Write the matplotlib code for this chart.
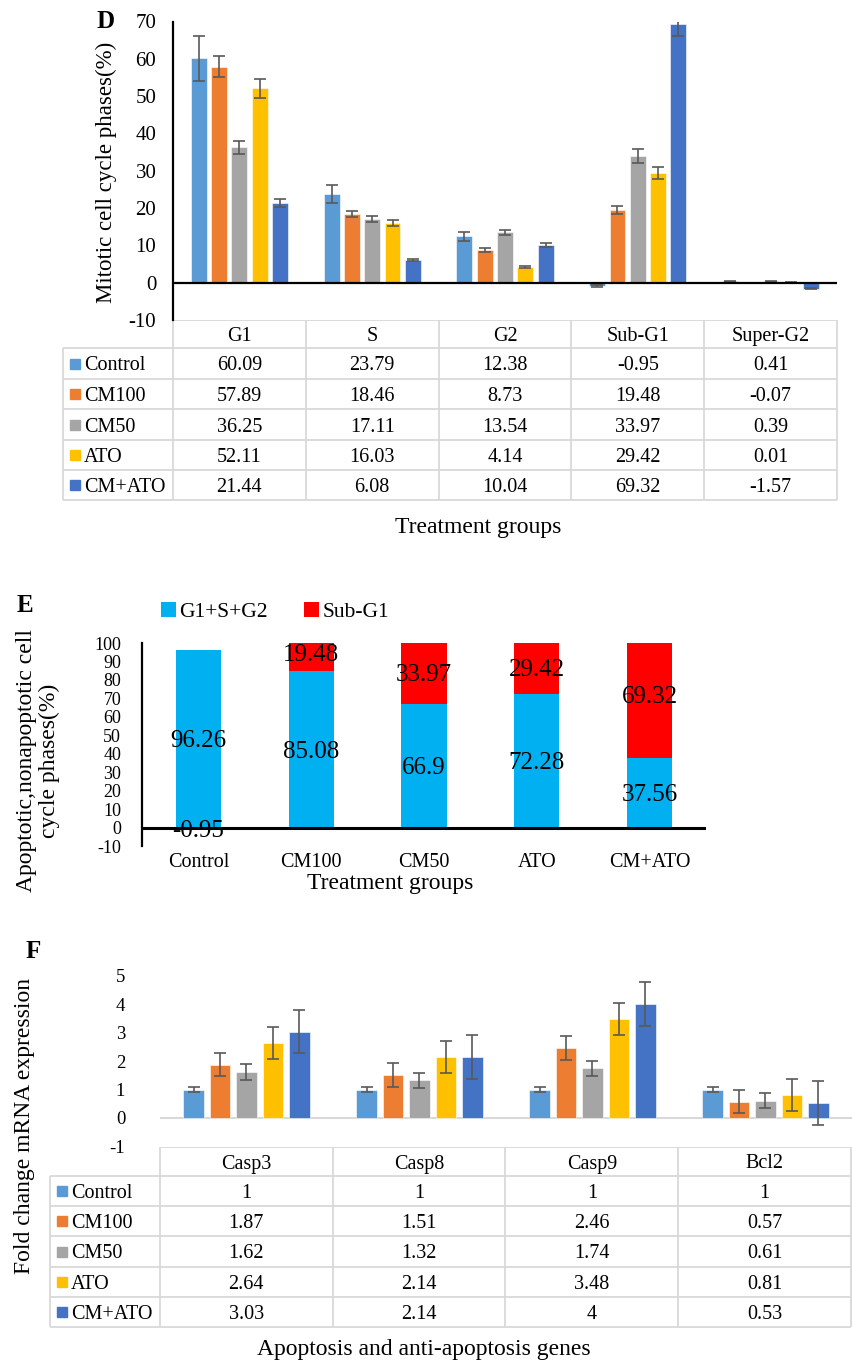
"""Cell cycle phases (D), apoptotic fraction (E) and gene expression (F)."""

import numpy
import matplotlib
matplotlib.use('Agg')
from matplotlib import pyplot
from matplotlib.patches import Rectangle

# Treatment groups shared by all panels.
groups = ['Control', 'CM100', 'CM50', 'ATO', 'CM+ATO']
group_colors = ['#5B9BD5', '#ED7D31', '#A5A5A5', '#FFC000', '#4472C4']

# Panel D: mitotic cell cycle phases (%).
phases = ['G1', 'S', 'G2', 'Sub-G1', 'Super-G2']
control_phases = [60.09, 23.79, 12.38, -0.95, 0.41]
cm100_phases = [57.89, 18.46, 8.73, 19.48, -0.07]
cm50_phases = [36.25, 17.11, 13.54, 33.97, 0.39]
ato_phases = [52.11, 16.03, 4.14, 29.42, 0.01]
cm_ato_phases = [21.44, 6.08, 10.04, 69.32, -1.57]
control_phases_err = [6.0, 2.4, 1.3, 0.3, 0.1]
cm100_phases_err = [2.8, 0.8, 0.5, 1.0, 0.1]
cm50_phases_err = [1.7, 0.8, 0.7, 1.8, 0.1]
ato_phases_err = [2.5, 0.8, 0.2, 1.5, 0.1]
cm_ato_phases_err = [1.1, 0.3, 0.5, 3.2, 0.2]

# Panel E: non-apoptotic (G1+S+G2) and apoptotic (Sub-G1) fractions.
non_apoptotic = [96.26, 85.08, 66.9, 72.28, 37.56]
apoptotic = [-0.95, 19.48, 33.97, 29.42, 69.32]

# Panel F: fold change of mRNA expression.
genes = ['Casp3', 'Casp8', 'Casp9', 'Bcl2']
control_genes = [1, 1, 1, 1]
cm100_genes = [1.87, 1.51, 2.46, 0.57]
cm50_genes = [1.62, 1.32, 1.74, 0.61]
ato_genes = [2.64, 2.14, 3.48, 0.81]
cm_ato_genes = [3.03, 2.14, 4, 0.53]
control_genes_err = [0.1, 0.1, 0.1, 0.1]
cm100_genes_err = [0.41, 0.41, 0.41, 0.41]
cm50_genes_err = [0.27, 0.27, 0.27, 0.27]
ato_genes_err = [0.57, 0.57, 0.57, 0.57]
cm_ato_genes_err = [0.76, 0.76, 0.76, 0.76]

phase_data = [control_phases, cm100_phases, cm50_phases, ato_phases,
              cm_ato_phases]
phase_err = [control_phases_err, cm100_phases_err, cm50_phases_err,
             ato_phases_err, cm_ato_phases_err]
gene_data = [control_genes, cm100_genes, cm50_genes, ato_genes, cm_ato_genes]
gene_err = [control_genes_err, cm100_genes_err, cm50_genes_err,
            ato_genes_err, cm_ato_genes_err]

pyplot.rc('font', family='Liberation Serif', size=14)
pyplot.rc('axes', unicode_minus=False)

W, H = 853, 1362
fig = pyplot.figure(figsize=(W / 100, H / 100), dpi=100)

# Overlay axes in pixel units for the tables and free text.
ov = fig.add_axes([0, 0, 1, 1])
ov.set_xlim(0, W)
ov.set_ylim(H, 0)
ov.axis('off')


def axes_px(left, top, right, bottom):
    return fig.add_axes([left / W, 1 - bottom / H,
                         (right - left) / W, (bottom - top) / H])


def grouped_bars(ax, cats, data, err):
    x = numpy.arange(len(cats))
    step, width = 0.153, 0.12
    for i, (vals, errs) in enumerate(zip(data, err)):
        ax.bar(x + (i - 2) * step, vals, width, yerr=errs,
               color=group_colors[i], edgecolor='white', linewidth=0.4,
               error_kw=dict(ecolor='#595959', elinewidth=1.2,
                             capsize=4.3, capthick=1.2))
    ax.set_xlim(-0.5, len(cats) - 0.5)
    ax.set_xticks([])


def draw_table(left, right, leg_left, rows_y, headers, data, size=14.5):
    grid = dict(color='#D9D9D9', lw=1.3, solid_capstyle='butt')
    edges = numpy.linspace(left, right, len(headers) + 1)
    ov.plot([left, right], [rows_y[0]] * 2, **grid)
    for y in rows_y[1:]:
        ov.plot([leg_left, right], [y, y], **grid)
    for x in edges:
        ov.plot([x, x], [rows_y[0], rows_y[-1]], **grid)
    ov.plot([leg_left, leg_left], [rows_y[1], rows_y[-1]], **grid)
    centers = (edges[:-1] + edges[1:]) / 2
    ymid = [(a + b) / 2 for a, b in zip(rows_y[:-1], rows_y[1:])]
    for xc, name in zip(centers, headers):
        ov.text(xc, ymid[0], name, ha='center', va='center_baseline',
                fontsize=size)
    for r, (name, vals) in enumerate(zip(groups, data)):
        yc = ymid[r + 1]
        ov.add_patch(Rectangle((leg_left + 7, yc - 5), 10, 10,
                               color=group_colors[r]))
        ov.text(leg_left + 21, yc, name, ha='left', va='center_baseline',
                fontsize=size)
        for xc, v in zip(centers, vals):
            ov.text(xc, yc, '%g' % v, ha='center', va='center_baseline',
                    fontsize=size)


def center_labels(ax, bars, values, size):
    for rect, v in zip(bars, values):
        ax.text(rect.get_x() + rect.get_width() / 2,
                rect.get_y() + rect.get_height() / 2, '%g' % v,
                ha='center', va='center_baseline', fontsize=size, zorder=5)


# ---- Panel D ----
axd = axes_px(173, 21.5, 837, 320)
grouped_bars(axd, phases, phase_data, phase_err)
axd.set_ylim(-10, 70)
axd.set_yticks(numpy.arange(-10, 71, 10))
axd.axhline(0.0, color='black', lw=1.6)
for side in ['top', 'right', 'bottom']:
    axd.spines[side].set_visible(False)
axd.spines['left'].set_linewidth(1.6)
axd.tick_params(axis='y', length=0, pad=12, labelsize=15)
draw_table(173, 837, 63, [320, 348, 379, 409, 440, 470, 500],
           phases, phase_data)
ov.text(106, 21, 'D', ha='center', va='center', fontsize=18,
        fontweight='bold')
ov.text(106, 172, 'Mitotic cell cycle phases(%)', rotation=90,
        ha='center', va='center', fontsize=16.5)
ov.text(478, 528, 'Treatment groups', ha='center', va='center',
        fontsize=17)

# ---- Panel E ----
axe = axes_px(142, 643, 706, 846)
xe = numpy.arange(len(groups))
base_red = numpy.where(numpy.array(apoptotic) >= 0, non_apoptotic, 0)
b1 = axe.bar(xe, non_apoptotic, 0.4, color='#00B0F0', label='G1+S+G2')
b2 = axe.bar(xe, apoptotic, 0.4, bottom=base_red, color='#FF0000',
             label='Sub-G1')
axe.axhline(0.0, color='black', lw=2.2)
center_labels(axe, b1, non_apoptotic, 18)
center_labels(axe, b2, apoptotic, 18)
axe.set_xlim(-0.5, len(groups) - 0.5)
axe.set_ylim(-10, 100)
axe.set_yticks(numpy.arange(-10, 101, 10))
axe.set_xticks(xe, groups)
for side in ['top', 'right', 'bottom']:
    axe.spines[side].set_visible(False)
axe.spines['left'].set_linewidth(1.6)
axe.tick_params(axis='y', length=0, pad=15, labelsize=13)
axe.tick_params(axis='x', length=0, pad=5, labelsize=14.5)
axe.legend(handles=[b1, b2], loc='center left', ncol=2, frameon=False,
           bbox_to_anchor=(161 / W, 1 - 612 / H),
           bbox_transform=fig.transFigure, fontsize=15.5,
           handlelength=0.7, handleheight=0.7, handletextpad=0.15,
           columnspacing=1.7, borderpad=0, borderaxespad=0)
ov.text(25, 605, 'E', ha='center', va='center', fontsize=18,
        fontweight='bold')
ov.text(38, 761, 'Apoptotic,nonapoptotic cell\ncycle phases(%)',
        rotation=90, ha='center', va='center', fontsize=17,
        linespacing=1.1)
ov.text(390, 883, 'Treatment groups', ha='center', va='center',
        fontsize=17)

# ---- Panel F ----
axf = axes_px(160, 975.5, 852, 1146.5)
grouped_bars(axf, genes, gene_data, gene_err)
axf.set_ylim(-1, 5)
axf.set_yticks(numpy.arange(-1, 6, 1))
axf.axhline(0.0, color='#D9D9D9', lw=1.5, zorder=0)
for side in ['top', 'right', 'bottom', 'left']:
    axf.spines[side].set_visible(False)
axf.tick_params(axis='y', length=0, pad=25, labelsize=13.5)
draw_table(160, 851, 50, [1147, 1176, 1206, 1236, 1267, 1297, 1327],
           genes, gene_data)
ov.text(33, 952, 'F', ha='center', va='center', fontsize=18,
        fontweight='bold')
ov.text(25, 1126, 'Fold change mRNA expression', rotation=90,
        ha='center', va='center', fontsize=17)
ov.text(424, 1350, 'Apoptosis and anti-apoptosis genes', ha='center',
        va='center', fontsize=17)

fig.savefig('out.png', dpi=100)
